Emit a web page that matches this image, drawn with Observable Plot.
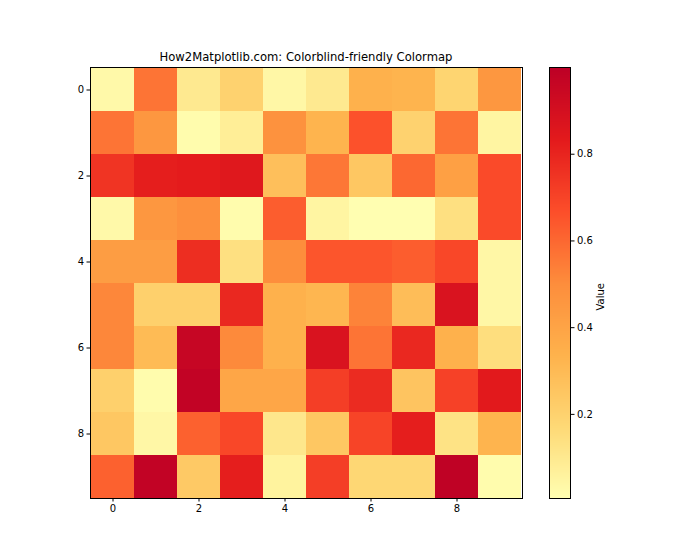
<!DOCTYPE html>
<html>
<head>
<meta charset="utf-8">
<script src="https://cdn.jsdelivr.net/npm/d3@7"></script>
<script src="https://cdn.jsdelivr.net/npm/@observablehq/plot@0.6"></script>
<style>
  body { margin: 0; background: #fff; }
  #fig { position: relative; width: 700px; height: 560px; font-family: "DejaVu Sans", sans-serif; }
  #title { position: absolute; left: 90px; width: 432px; top: 50px; text-align: center; font-size: 11.6px; color: #000; }
  #main { position: absolute; left: 0; top: 0; }
  #cbar { position: absolute; left: 549px; top: 0; }
</style>
</head>
<body>
<div id="fig">
  <div id="main"></div>
  <div id="cbar"></div>
  <div id="title">How2Matplotlib.com: Colorblind-friendly Colormap</div>
</div>
<script>
// Cell values, one array per row (row 0 at top)
const row0 = [0.03, 0.57, 0.10, 0.20, 0.04, 0.10, 0.34, 0.33, 0.19, 0.46];
const row1 = [0.57, 0.46, 0.02, 0.08, 0.48, 0.33, 0.66, 0.20, 0.57, 0.05];
const row2 = [0.75, 0.82, 0.83, 0.85, 0.28, 0.56, 0.25, 0.60, 0.42, 0.68];
const row3 = [0.03, 0.46, 0.49, 0.02, 0.63, 0.05, 0.01, 0.01, 0.14, 0.68];
const row4 = [0.43, 0.43, 0.77, 0.14, 0.50, 0.65, 0.65, 0.63, 0.69, 0.04];
const row5 = [0.52, 0.21, 0.21, 0.79, 0.34, 0.32, 0.53, 0.29, 0.88, 0.04];
const row6 = [0.52, 0.30, 0.96, 0.51, 0.34, 0.88, 0.57, 0.79, 0.34, 0.15];
const row7 = [0.21, 0.02, 0.98, 0.39, 0.39, 0.72, 0.78, 0.26, 0.71, 0.84];
const row8 = [0.25, 0.04, 0.62, 0.69, 0.11, 0.25, 0.70, 0.82, 0.13, 0.33];
const row9 = [0.62, 0.98, 0.24, 0.82, 0.06, 0.72, 0.18, 0.18, 0.99, 0.02];
const rows = [row0, row1, row2, row3, row4, row5, row6, row7, row8, row9];

const indexLabels = [0, 1, 2, 3, 4, 5, 6, 7, 8, 9];
const axisTicks = [0, 2, 4, 6, 8];
const colorbarTicks = [0.2, 0.4, 0.6, 0.8];
const valueDomain = [0.006, 1.0];
const cmapColors = ["#ffffb2", "#fed976", "#feb24c", "#fd8d3c", "#fc4e2a", "#e31a1c", "#bd0026"];

const cells = rows.flatMap((row, r) => row.map((v, c) => ({r: indexLabels[r], c: indexLabels[c], v})));

const colorScale = {
  type: "linear",
  domain: valueDomain,
  interpolate: d3.piecewise(d3.interpolateRgb, cmapColors)
};

const font = {fontFamily: "DejaVu Sans, sans-serif", fontSize: "10px", background: "transparent", color: "#000"};

const main = Plot.plot({
  width: 540, height: 560,
  marginLeft: 90, marginRight: 18, marginTop: 67, marginBottom: 62,
  style: font,
  x: {type: "band", domain: indexLabels, padding: 0},
  y: {type: "band", domain: indexLabels, padding: 0},
  color: colorScale,
  marks: [
    Plot.cell(cells, {x: "c", y: "r", fill: "v", inset: 0, shapeRendering: "crispEdges"}),
    Plot.frame({stroke: "#000", strokeWidth: 1}),
    Plot.axisX({ticks: axisTicks, tickSize: 3.5, tickPadding: 3, label: null, fontSize: 10}),
    Plot.axisY({ticks: axisTicks, tickSize: 3.5, tickPadding: 3, label: null, fontSize: 10})
  ]
});
document.getElementById("main").append(main);

const cbar = Plot.plot({
  width: 151, height: 560,
  marginLeft: 0, marginRight: 130, marginTop: 67, marginBottom: 62,
  style: font,
  x: {type: "linear", domain: [0, 1], axis: null},
  y: {type: "linear", domain: valueDomain},
  color: colorScale,
  marks: [
    Plot.raster({x1: 0, x2: 1, y1: valueDomain[0], y2: valueDomain[1], width: 1, height: 431, fill: (x, y) => y, imageRendering: "auto"}),
    Plot.frame({stroke: "#000", strokeWidth: 1}),
    Plot.axisY({anchor: "right", ticks: colorbarTicks, tickFormat: d3.format(".1f"), tickSize: 3.5, tickPadding: 3, label: null, fontSize: 10}),
    Plot.text(["Value"], {frameAnchor: "right", dx: 30, rotate: -90, fontSize: 10, text: d => d})
  ]
});
document.getElementById("cbar").append(cbar);
</script>
</body>
</html>
